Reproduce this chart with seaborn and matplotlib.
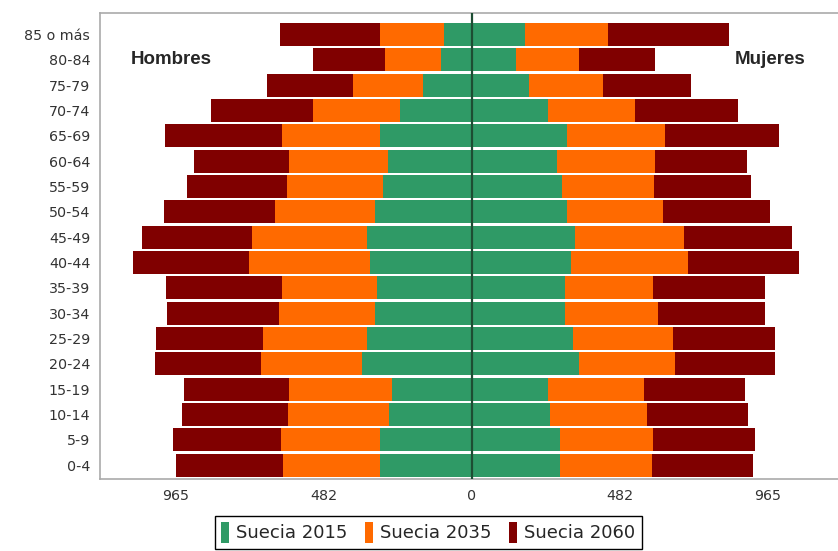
import numpy as np
import pandas as pd
import seaborn as sns
import matplotlib.pyplot as plt
from matplotlib.patches import Patch

# age groups, top row first
ages = ["85 o más", "80-84", "75-79", "70-74", "65-69", "60-64", "55-59", "50-54",
        "45-49", "40-44", "35-39", "30-34", "25-29", "20-24", "15-19", "10-14",
        "5-9", "0-4"]

# population in thousands
hombres_2015 = [90, 100, 158, 234, 299, 272, 288, 315, 342, 332, 308, 315, 342, 359, 261, 269, 299, 299]
hombres_2035 = [209, 183, 228, 282, 320, 323, 313, 326, 373, 393, 312, 312, 338, 328, 334, 329, 323, 317]
hombres_2060 = [326, 235, 282, 334, 381, 310, 326, 362, 361, 380, 377, 367, 349, 345, 342, 346, 353, 349]

mujeres_2015 = [174, 144, 185, 250, 310, 279, 293, 310, 337, 323, 304, 304, 331, 348, 247, 255, 288, 288]
mujeres_2035 = [269, 207, 244, 282, 320, 319, 301, 315, 356, 383, 288, 304, 326, 315, 316, 316, 302, 299]
mujeres_2060 = [397, 247, 285, 337, 373, 299, 316, 348, 352, 362, 364, 348, 332, 326, 328, 328, 334, 329]

series = ["Suecia 2015", "Suecia 2035", "Suecia 2060"]
colors = ["#2f9a66", "#ff6a00", "#800000"]
tick_vals = [-965, -482, 0, 482, 965]
tick_labels = ["965", "482", "0", "482", "965"]

sns.set_theme(style="white")
plt.rcParams["font.family"] = ["DejaVu Sans"]

fig = plt.figure(figsize=(8.38, 5.51), dpi=100)
ax = fig.add_axes([100 / 838, 72 / 551, 738 / 838, 466 / 551])

# stacked bars: cumulative totals drawn back to front
h = np.array([hombres_2015, hombres_2035, hombres_2060]).cumsum(axis=0)
m = np.array([mujeres_2015, mujeres_2035, mujeres_2060]).cumsum(axis=0)
for i in [2, 1, 0]:
    df = pd.DataFrame({"edad": ages, "hombres": -h[i], "mujeres": m[i]})
    for col in ["hombres", "mujeres"]:
        sns.barplot(data=df, x=col, y="edad", order=ages, color=colors[i],
                    saturation=1, width=0.91, errorbar=None, linewidth=0, ax=ax)

ax.axvline(0, color="#1d4d33", lw=1.6, zorder=5)
ax.set_xlim(-1212, 1194)
ax.set_ylim(17.55, -0.85)
ax.set_xticks(tick_vals)
ax.set_xticklabels(tick_labels)
ax.set_xlabel("")
ax.set_ylabel("")
ax.tick_params(axis="both", labelsize=10.3, colors="#333333", length=3)
ax.tick_params(axis="y", length=0, pad=7)
ax.tick_params(axis="x", pad=4)
for s in ["left", "bottom", "top"]:
    ax.spines[s].set_color("#aaaaaa")
    ax.spines[s].set_linewidth(1.2)
ax.spines["right"].set_visible(False)

ax.text(-980, 1, "Hombres", fontsize=13.5, fontweight="bold", ha="center", va="center",
        family=["Liberation Sans", "DejaVu Sans"])
ax.text(973, 1, "Mujeres", fontsize=13.5, fontweight="bold", ha="center", va="center",
        family=["Liberation Sans", "DejaVu Sans"])

handles = [Patch(facecolor=c, edgecolor="none") for c in colors]
fig.legend(handles, series, loc="lower center", bbox_to_anchor=(0.511, 0.0),
           ncol=3, fontsize=13, frameon=True, fancybox=False, edgecolor="black",
           handlelength=0.45, handleheight=1.4, handletextpad=0.4,
           columnspacing=0.95, borderpad=0.35, borderaxespad=0.1, framealpha=1)

fig.savefig("out.png", dpi=100)
